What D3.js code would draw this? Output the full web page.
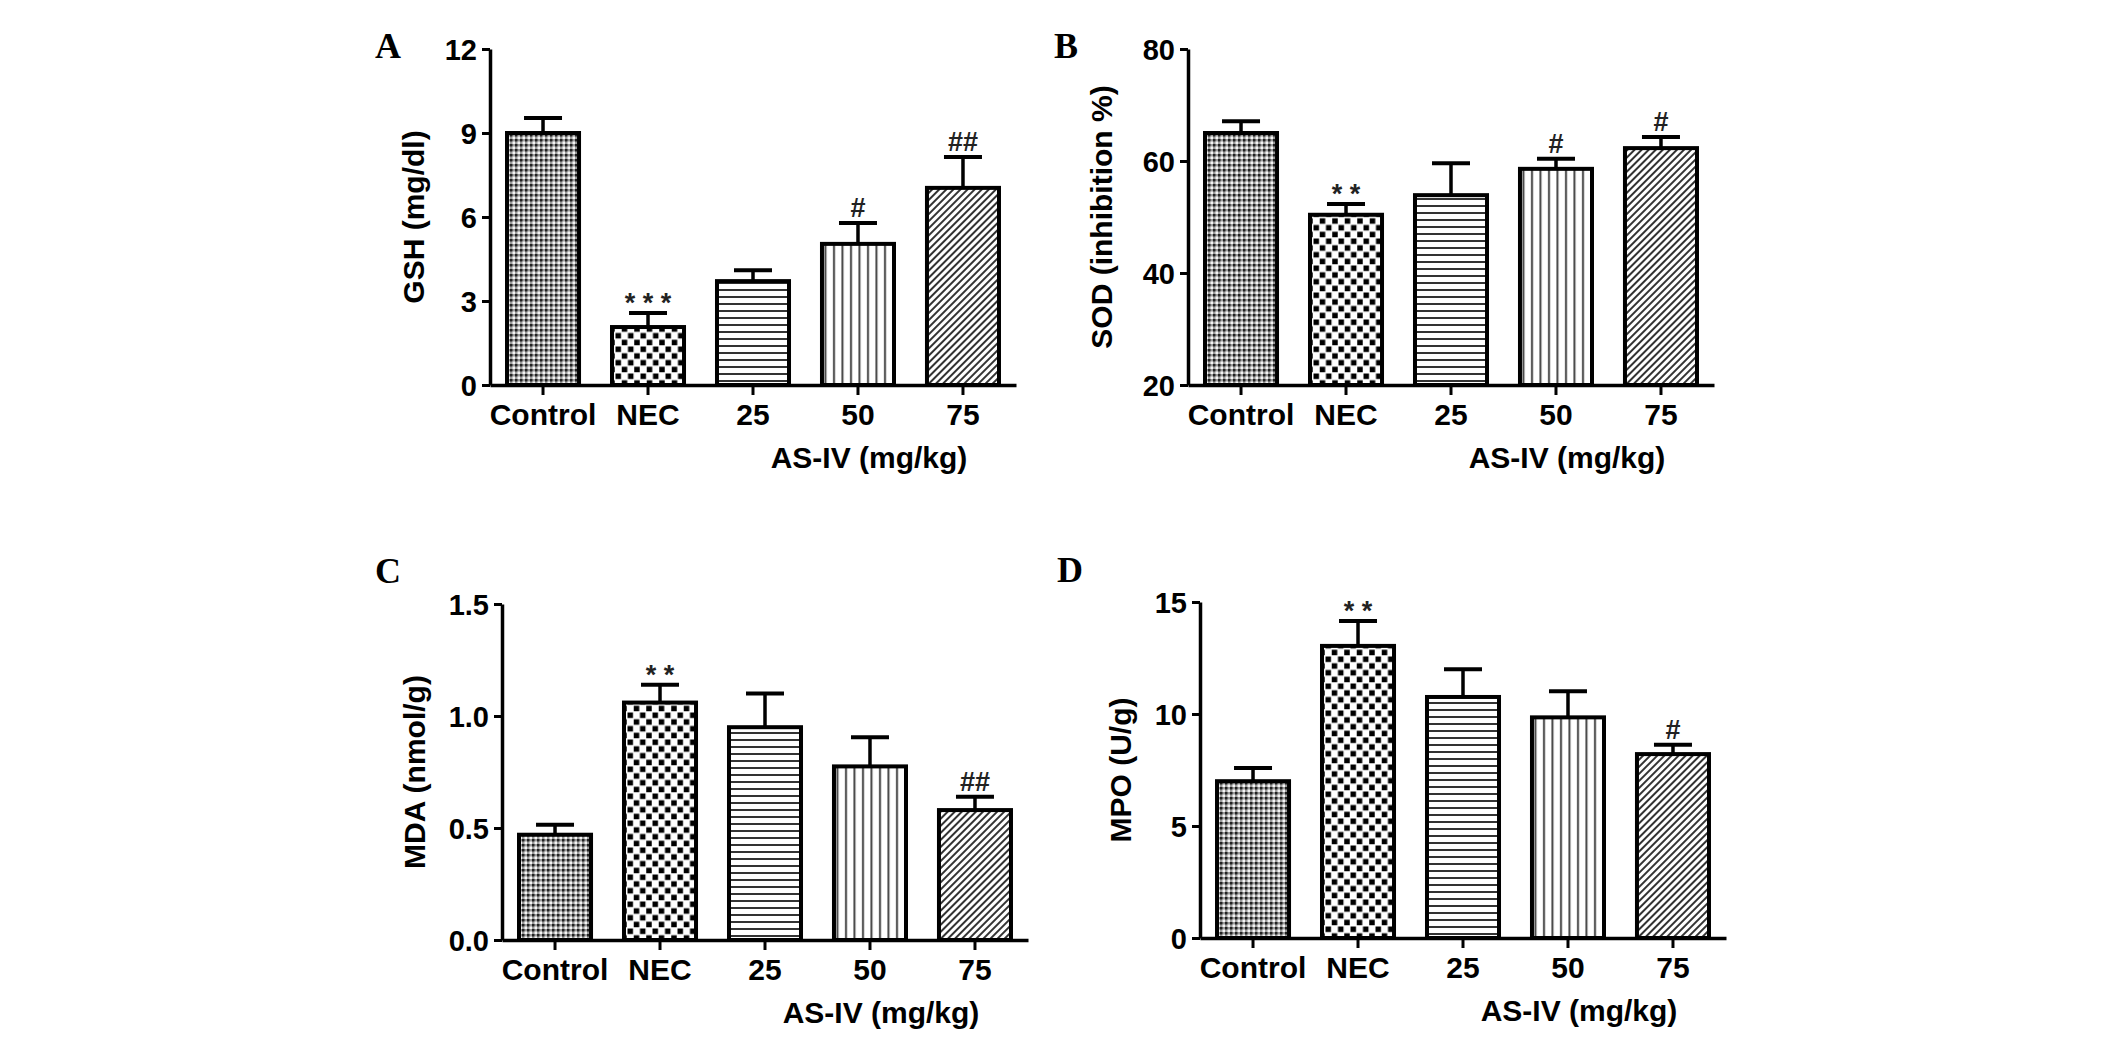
<!DOCTYPE html>
<html>
<head>
<meta charset="utf-8">
<script src="https://cdn.jsdelivr.net/npm/d3@7"></script>
<style>
    body { margin: 0; background: #fff; }
    svg text { font-family: "Liberation Sans", Arial, sans-serif; font-weight: bold; fill: #000; }
    .letter { font-family: "Liberation Serif", "Times New Roman", serif !important; }
</style>
</head>
<body>
<div id="chart"></div>
<script>
var groups = ["Control", "NEC", "25", "50", "75"];

// A: GSH (mg/dl)
var gshMean = [9.0, 2.07, 3.71, 5.04, 7.04];
var gshErr = [0.54, 0.5, 0.39, 0.75, 1.1];
var gshSig = ["", "***", "", "#", "##"];
var gshTicks = [0, 3, 6, 9, 12];

// B: SOD (inhibition %)
var sodMean = [65.0, 50.4, 53.9, 58.6, 62.3];
var sodErr = [2.1, 1.9, 5.7, 1.8, 2.0];
var sodSig = ["", "**", "", "#", "#"];
var sodTicks = [20, 40, 60, 80];

// C: MDA (nmol/g)
var mdaMean = [0.47, 1.06, 0.95, 0.775, 0.58];
var mdaErr = [0.045, 0.08, 0.15, 0.13, 0.06];
var mdaSig = ["", "**", "", "", "##"];
var mdaTicks = [0, 0.5, 1.0, 1.5];

// D: MPO (U/g)
var mpoMean = [7.0, 13.04, 10.76, 9.85, 8.21];
var mpoErr = [0.59, 1.11, 1.24, 1.17, 0.42];
var mpoSig = ["", "**", "", "", "#"];
var mpoTicks = [0, 5, 10, 15];

var svg = d3.select("#chart")
    .append("svg")
    .attr("width", 2126)
    .attr("height", 1040);

// fill patterns, one per group
var defs = svg.append("defs");

var p0 = defs.append("pattern").attr("id", "pat0")
    .attr("patternUnits", "userSpaceOnUse").attr("width", 5).attr("height", 5);
p0.append("rect").attr("width", 5).attr("height", 5).attr("fill", "#9a9a9a");
p0.append("rect").attr("width", 2.5).attr("height", 2.5).attr("fill", "#222");
p0.append("rect").attr("x", 2.5).attr("y", 2.5).attr("width", 2.5).attr("height", 2.5).attr("fill", "#f4f4f4");

var p1 = defs.append("pattern").attr("id", "pat1")
    .attr("patternUnits", "userSpaceOnUse").attr("width", 12.5).attr("height", 13.5);
p1.append("rect").attr("width", 12.5).attr("height", 13.5).attr("fill", "#fff");
p1.append("rect").attr("x", 0.5).attr("y", 0.5).attr("width", 5.5).attr("height", 5.5).attr("fill", "#000");
p1.append("rect").attr("x", 6.75).attr("y", 7.25).attr("width", 5.5).attr("height", 5.5).attr("fill", "#000");

var p2 = defs.append("pattern").attr("id", "pat2")
    .attr("patternUnits", "userSpaceOnUse").attr("width", 10).attr("height", 7);
p2.append("rect").attr("width", 10).attr("height", 7).attr("fill", "#fff");
p2.append("rect").attr("y", 2).attr("width", 10).attr("height", 2).attr("fill", "#333");

var p3 = defs.append("pattern").attr("id", "pat3")
    .attr("patternUnits", "userSpaceOnUse").attr("width", 8.5).attr("height", 10);
p3.append("rect").attr("width", 8.5).attr("height", 10).attr("fill", "#fff");
p3.append("rect").attr("x", 3).attr("width", 2).attr("height", 10).attr("fill", "#444");

var p4 = defs.append("pattern").attr("id", "pat4")
    .attr("patternUnits", "userSpaceOnUse").attr("width", 5).attr("height", 10)
    .attr("patternTransform", "rotate(45)");
p4.append("rect").attr("width", 5).attr("height", 10).attr("fill", "#fff");
p4.append("rect").attr("x", 1).attr("width", 2).attr("height", 10).attr("fill", "#333");

BarPanel = function(_svg, _opts){
    this.svg = _svg;
    this.opts = _opts;

    this.initVis();
};

BarPanel.prototype.initVis = function(){
    var vis = this;
    var o = vis.opts;

    vis.width = 526;
    vis.height = 336;

    vis.svg.append("text")
        .attr("class", "letter")
        .attr("x", o.letterX)
        .attr("y", o.letterY)
        .attr("font-size", "36px")
        .text(o.letter);

    vis.g = vis.svg.append("g")
        .attr("transform", "translate(" + o.left + ", " + o.top + ")");

    vis.x = d3.scaleBand()
        .domain(groups)
        .range([0, vis.width])
        .paddingInner(0.314)
        .paddingOuter(0.162);

    vis.y = d3.scaleLinear()
        .domain(o.domain)
        .range([vis.height, 0]);

    vis.updateVis();
    vis.addAxes();
}

BarPanel.prototype.updateVis = function(){
    var vis = this;
    var o = vis.opts;
    var base = o.domain[0];
    var bw = vis.x.bandwidth();

    var rows = groups.map(function(g, i) {
        return { group: g, mean: o.mean[i], err: o.err[i], sig: o.sig[i], idx: i };
    });

    var bar = vis.g.selectAll(".bar")
        .data(rows)
        .enter().append("g")
        .attr("class", "bar");

    // error bars first, bar outline sits on top of the stem foot
    bar.append("line")
        .attr("x1", function(d) { return vis.x(d.group) + bw / 2; })
        .attr("x2", function(d) { return vis.x(d.group) + bw / 2; })
        .attr("y1", function(d) { return vis.y(d.mean); })
        .attr("y2", function(d) { return vis.y(d.mean + d.err); })
        .attr("stroke", "#000")
        .attr("stroke-width", 3.5);

    bar.append("line")
        .attr("x1", function(d) { return vis.x(d.group) + bw / 2 - 19; })
        .attr("x2", function(d) { return vis.x(d.group) + bw / 2 + 19; })
        .attr("y1", function(d) { return vis.y(d.mean + d.err); })
        .attr("y2", function(d) { return vis.y(d.mean + d.err); })
        .attr("stroke", "#000")
        .attr("stroke-width", 4);

    bar.append("rect")
        .attr("x", function(d) { return vis.x(d.group); })
        .attr("y", function(d) { return vis.y(d.mean); })
        .attr("width", bw)
        .attr("height", function(d) { return vis.y(base) - vis.y(d.mean); })
        .attr("fill", function(d) { return "url(#pat" + d.idx + ")"; })
        .attr("stroke", "#000")
        .attr("stroke-width", 4);

    bar.filter(function(d) { return d.sig != ""; })
        .append("text")
        .attr("x", function(d) { return vis.x(d.group) + bw / 2; })
        .attr("y", function(d) {
            return vis.y(d.mean + d.err) - (d.sig.charAt(0) == "#" ? 6 : 1);
        })
        .attr("text-anchor", "middle")
        .attr("font-size", "27px")
        .style("fill", "#222")
        .text(function(d) {
            return d.sig.charAt(0) == "*" ? d.sig.split("").join(" ") : d.sig;
        });
}

BarPanel.prototype.addAxes = function(){
    var vis = this;
    var o = vis.opts;

    var yAxis = d3.axisLeft(vis.y)
        .tickValues(o.ticks)
        .tickFormat(o.format)
        .tickSize(8)
        .tickSizeOuter(0)
        .tickPadding(5);

    var yg = vis.g.append("g").call(yAxis);
    yg.selectAll("text").attr("font-size", "29px").attr("font-family", null).attr("dy", "0.36em");

    var xAxis = d3.axisBottom(vis.x)
        .tickSize(10)
        .tickSizeOuter(0)
        .tickPadding(9);

    var xg = vis.g.append("g")
        .attr("transform", "translate(0, " + vis.height + ")")
        .call(xAxis);
    xg.selectAll("text").attr("font-size", "30px").attr("font-family", null);

    [yg, xg].forEach(function(ax) {
        ax.attr("font-family", null);
        ax.select(".domain").attr("stroke", "#000").attr("stroke-width", 3.5);
        ax.selectAll(".tick line").attr("stroke", "#000").attr("stroke-width", 3);
    });

    vis.g.append("text")
        .attr("transform", "rotate(-90)")
        .attr("x", -vis.height / 2)
        .attr("y", -o.titleOffset)
        .attr("text-anchor", "middle")
        .attr("font-size", "30px")
        .text(o.title);

    vis.g.append("text")
        .attr("x", vis.x("50") + vis.x.bandwidth() / 2 + 11)
        .attr("y", vis.height + 83)
        .attr("text-anchor", "middle")
        .attr("font-size", "30px")
        .text("AS-IV (mg/kg)");
}

var intFmt = d3.format("d");
var decFmt = d3.format(".1f");

new BarPanel(svg, {
    letter: "A", letterX: 375, letterY: 58, left: 490, top: 49,
    domain: [0, 12], ticks: gshTicks, format: intFmt,
    mean: gshMean, err: gshErr, sig: gshSig,
    title: "GSH (mg/dl)", titleOffset: 66
});

new BarPanel(svg, {
    letter: "B", letterX: 1054, letterY: 58, left: 1188, top: 49,
    domain: [20, 80], ticks: sodTicks, format: intFmt,
    mean: sodMean, err: sodErr, sig: sodSig,
    title: "SOD (inhibition %)", titleOffset: 76
});

new BarPanel(svg, {
    letter: "C", letterX: 375, letterY: 583, left: 502, top: 604,
    domain: [0, 1.5], ticks: mdaTicks, format: decFmt,
    mean: mdaMean, err: mdaErr, sig: mdaSig,
    title: "MDA (nmol/g)", titleOffset: 77
});

new BarPanel(svg, {
    letter: "D", letterX: 1057, letterY: 582, left: 1200, top: 602,
    domain: [0, 15], ticks: mpoTicks, format: intFmt,
    mean: mpoMean, err: mpoErr, sig: mpoSig,
    title: "MPO (U/g)", titleOffset: 69
});
</script>
</body>
</html>
